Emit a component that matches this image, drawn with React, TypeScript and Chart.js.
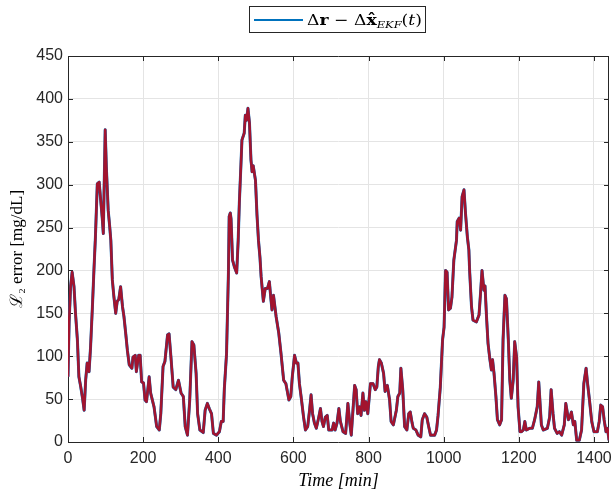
import React, { useEffect, useRef } from "react";
import { Chart, registerables } from "chart.js";

Chart.register(...registerables);

// ---- Data (time in minutes, L2 error in mg/dL) ----
const times: number[] = [
  0, 3, 7, 11, 16, 20, 25, 29, 34, 39, 43, 47, 51, 56, 60, 65, 69, 73, 78, 83,
  87, 91, 94, 99, 102, 107, 111, 114, 118, 122, 127, 131, 135, 140, 145, 149, 154, 158, 163, 170,
  173, 179, 182, 188, 192, 196, 201, 205, 209, 216, 220, 229, 236, 243, 247, 253, 258, 265, 269, 274,
  280, 287, 294, 301, 307, 312, 318, 324, 330, 335, 341, 345, 351, 360, 365, 371, 376, 382, 387, 395,
  403, 408, 413, 416, 422, 427, 429, 432, 434, 438, 443, 449, 453, 456, 460, 463, 469, 472, 475, 479,
  483, 487, 490, 493, 499, 503, 507, 511, 514, 520, 525, 531, 536, 540, 543, 547, 554, 561, 567, 574,
  580, 588, 593, 597, 603, 608, 612, 616, 621, 627, 632, 638, 643, 647, 651, 656, 661, 667, 672, 676,
  680, 685, 690, 694, 703, 707, 711, 716, 721, 725, 732, 739, 745, 750, 754, 763, 767, 771, 776, 780,
  785, 789, 793, 798, 805, 812, 818, 822, 826, 829, 834, 840, 844, 850, 856, 860, 866, 874, 878, 883,
  886, 891, 896, 902, 907, 911, 916, 919, 926, 932, 939, 943, 949, 955, 960, 965, 976, 981, 985, 991,
  997, 1001, 1005, 1009, 1013, 1018, 1022, 1027, 1034, 1036, 1041, 1045, 1049, 1054, 1058, 1063, 1067, 1069, 1074, 1078,
  1087, 1094, 1098, 1102, 1107, 1110, 1114, 1118, 1123, 1127, 1130, 1134, 1139, 1143, 1149, 1154, 1158, 1163, 1167, 1172,
  1176, 1180, 1185, 1189, 1194, 1198, 1203, 1207, 1212, 1216, 1220, 1229, 1236, 1242, 1249, 1253, 1256, 1260, 1265, 1276,
  1282, 1286, 1291, 1295, 1302, 1308, 1314, 1321, 1325, 1328, 1332, 1336, 1340, 1345, 1349, 1354, 1361, 1367, 1373, 1379,
  1383, 1388, 1394, 1400, 1409, 1414, 1418, 1423, 1427, 1432, 1436, 1440,
];

const errorValues: number[] = [
  76, 140, 182, 198, 181, 150, 119, 76, 64, 50, 37, 72, 92, 82, 110, 158, 200, 239, 301, 303,
  282, 262, 243, 364, 321, 270, 251, 235, 189, 170, 150, 164, 166, 181, 158, 146, 125, 107, 90, 86,
  99, 101, 82, 101, 101, 70, 69, 49, 47, 76, 57, 41, 18, 14, 33, 88, 94, 125, 126, 99,
  64, 61, 72, 57, 53, 18, 8, 49, 117, 113, 80, 33, 14, 11, 37, 45, 39, 33, 10, 8,
  12, 24, 24, 61, 103, 197, 263, 267, 260, 212, 204, 197, 235, 278, 320, 352, 360, 381, 375, 389,
  372, 329, 315, 322, 305, 265, 235, 215, 193, 164, 179, 179, 187, 167, 154, 171, 146, 127, 103, 72,
  68, 49, 53, 76, 101, 92, 92, 68, 51, 29, 14, 18, 37, 55, 33, 22, 16, 28, 39, 24,
  18, 29, 31, 14, 14, 22, 14, 22, 39, 24, 12, 10, 45, 22, 8, 66, 61, 33, 41, 31,
  57, 37, 47, 33, 68, 68, 61, 64, 88, 96, 92, 80, 59, 66, 49, 24, 20, 37, 53, 57,
  86, 61, 18, 14, 33, 35, 22, 16, 14, 8, 6, 26, 33, 29, 18, 8, 8, 14, 31, 64,
  119, 134, 200, 198, 154, 156, 169, 212, 235, 257, 261, 247, 286, 294, 267, 239, 224, 200, 158, 142,
  140, 148, 173, 200, 177, 182, 146, 115, 96, 84, 96, 80, 53, 26, 20, 26, 119, 171, 167, 119,
  72, 51, 72, 117, 99, 41, 12, 12, 14, 24, 14, 16, 16, 26, 41, 70, 49, 20, 14, 16,
  29, 61, 33, 16, 10, 12, 8, 20, 45, 37, 26, 29, 35, 20, 24, 2, 2, 14, 68, 86,
  68, 49, 24, 12, 12, 24, 43, 41, 26, 12, 16, 2,
];

const xTickValues: number[] = [0, 200, 400, 600, 800, 1000, 1200, 1400];
const yTickValues: number[] = [0, 50, 100, 150, 200, 250, 300, 350, 400, 450];
const xMax = 1440;
const yMax = 450;

const seriesLabel = "Δr − Δx̂_EKF(t)";
const xTitle = "Time [min]";
const yTitle = "ℒ₂ error [mg/dL]";

const SANS = "'Liberation Sans', Arial, Helvetica, sans-serif";
const SERIF = "'Liberation Serif', 'DejaVu Serif', 'Times New Roman', serif";
const LSERIF = "'DejaVu Serif', 'Liberation Serif', serif";
const AXIS = "#262626";
const GRID = "#e4e4e4";
const BLUE = "#0072BD";
const RED = "#A2142F";

const boxPlugin = {
  id: "matlabBox",
  beforeDatasetsDraw(chart: any) {
    const { ctx, chartArea: a, scales } = chart;
    ctx.save();
    ctx.strokeStyle = AXIS;
    ctx.lineWidth = 1;
    ctx.beginPath();
    ctx.rect(Math.round(a.left) + 0.5, Math.round(a.top) + 0.5, Math.round(a.right - a.left) - 1, Math.round(a.bottom - a.top));
    ctx.stroke();
    const tl = 5;
    ctx.beginPath();
    for (const t of scales.x.ticks) {
      const px = Math.round(scales.x.getPixelForValue(t.value)) + 0.5;
      ctx.moveTo(px, a.bottom);
      ctx.lineTo(px, a.bottom - tl);
      ctx.moveTo(px, a.top);
      ctx.lineTo(px, a.top + tl);
    }
    for (const t of scales.y.ticks) {
      const py = Math.round(scales.y.getPixelForValue(t.value)) + 0.5;
      ctx.moveTo(a.left, py);
      ctx.lineTo(a.left + tl, py);
      ctx.moveTo(a.right, py);
      ctx.lineTo(a.right - tl, py);
    }
    ctx.stroke();
    ctx.restore();
  },
  afterDraw(chart: any) {
    const { ctx } = chart;
    ctx.save();
    const bx = 249, by = 6, bw = 177, bh = 27;
    ctx.fillStyle = "#ffffff";
    ctx.fillRect(bx, by, bw, bh);
    ctx.strokeStyle = AXIS;
    ctx.lineWidth = 1;
    ctx.strokeRect(bx + 0.5, by + 0.5, bw - 1, bh - 1);
    ctx.strokeStyle = BLUE;
    ctx.lineWidth = 2;
    ctx.beginPath();
    ctx.moveTo(254, 20);
    ctx.lineTo(303, 20);
    ctx.stroke();

    const base = 25;
    const pieces = [
      { t: "Δ", f: `15px ${LSERIF}`, dy: 0 },
      { t: "r", f: `bold 15px ${LSERIF}`, dy: 0 },
      { t: " − ", f: `15px ${LSERIF}`, dy: 0 },
      { t: "Δ", f: `15px ${LSERIF}`, dy: 0 },
      { t: "x", f: `bold 15px ${LSERIF}`, dy: 0, hat: true },
      { t: "EKF", f: `italic 10px ${LSERIF}`, dy: 3 },
      { t: "(", f: `15px ${LSERIF}`, dy: 0 },
      { t: "t", f: `italic 15px ${LSERIF}`, dy: 0 },
      { t: ")", f: `15px ${LSERIF}`, dy: 0 },
    ];
    ctx.fillStyle = "#000000";
    ctx.textBaseline = "alphabetic";
    ctx.textAlign = "left";
    let total = 0;
    for (const p of pieces as any[]) {
      ctx.font = p.f;
      total += ctx.measureText(p.t).width;
    }
    const avail = 115;
    const sx = Math.min(1.25, avail / total);
    ctx.translate(307, base);
    ctx.scale(sx, 1);
    let x = 0;
    for (const p of pieces as any[]) {
      ctx.font = p.f;
      const w = ctx.measureText(p.t).width;
      ctx.fillText(p.t, x, p.dy);
      if (p.hat) {
        ctx.textAlign = "center";
        ctx.fillText("ˆ", x + w / 2, -1);
        ctx.textAlign = "left";
      }
      x += w;
    }
    ctx.restore();
  },
};

export default function App() {
  const ref = useRef<HTMLCanvasElement | null>(null);

  useEffect(() => {
    if (!ref.current) return;
    const points = times.map((t, i) => ({ x: t, y: errorValues[i] }));
    const chart = new Chart(ref.current, {
      type: "line",
      data: {
        datasets: [
          {
            label: seriesLabel,
            data: points,
            borderColor: BLUE,
            borderWidth: 3.0,
            borderJoinStyle: "round",
            pointRadius: 0,
            tension: 0,
            fill: false,
            order: 2,
          },
          {
            label: "estimate",
            data: points,
            borderColor: RED,
            borderWidth: 2.6,
            borderJoinStyle: "round",
            pointRadius: 0,
            tension: 0,
            fill: false,
            order: 1,
          },
        ],
      },
      options: {
        responsive: false,
        animation: false,
        events: [],
        layout: { padding: { top: 56, right: 2, left: 0, bottom: 0 } },
        plugins: {
          legend: { display: false },
          tooltip: { enabled: false },
          title: { display: false },
        },
        scales: {
          x: {
            type: "linear",
            min: 0,
            max: xMax,
            border: { display: false },
            grid: { color: GRID, drawTicks: false, lineWidth: 1 },
            afterBuildTicks: (s: any) => {
              s.ticks = xTickValues.map((v) => ({ value: v }));
            },
            ticks: {
              maxRotation: 0,
              autoSkip: false,
              padding: 7,
              color: AXIS,
              font: { family: SANS, size: 16 },
              callback: (v: any) => String(v),
            },
            title: {
              display: true,
              text: xTitle,
              color: "#000000",
              font: { family: SERIF, size: 18, style: "italic" },
              padding: { top: 0, bottom: 0 },
            },
            afterFit: (s: any) => {
              s.height = 50;
              s.paddingLeft = 0;
              s.paddingRight = 0;
            },
          },
          y: {
            type: "linear",
            min: 0,
            max: yMax,
            border: { display: false },
            grid: { color: GRID, drawTicks: false, lineWidth: 1 },
            afterBuildTicks: (s: any) => {
              s.ticks = yTickValues.map((v) => ({ value: v }));
            },
            ticks: {
              padding: 5,
              color: AXIS,
              font: { family: SANS, size: 16 },
              callback: (v: any) => String(v),
            },
            title: {
              display: true,
              text: yTitle,
              color: "#000000",
              font: { family: SERIF, size: 17 },
              padding: { top: 7, bottom: 0 },
            },
            afterFit: (s: any) => {
              s.width = 68;
              s.paddingTop = 0;
              s.paddingBottom = 0;
            },
          },
        },
      },
      plugins: [boxPlugin],
    } as any);
    return () => chart.destroy();
  }, []);

  return (
    <div style={{ position: "fixed", left: 0, top: 0, width: 611, height: 492, background: "#ffffff" }}>
      <canvas ref={ref} width={611} height={492} style={{ display: "block", width: 611, height: 492 }} />
    </div>
  );
}
